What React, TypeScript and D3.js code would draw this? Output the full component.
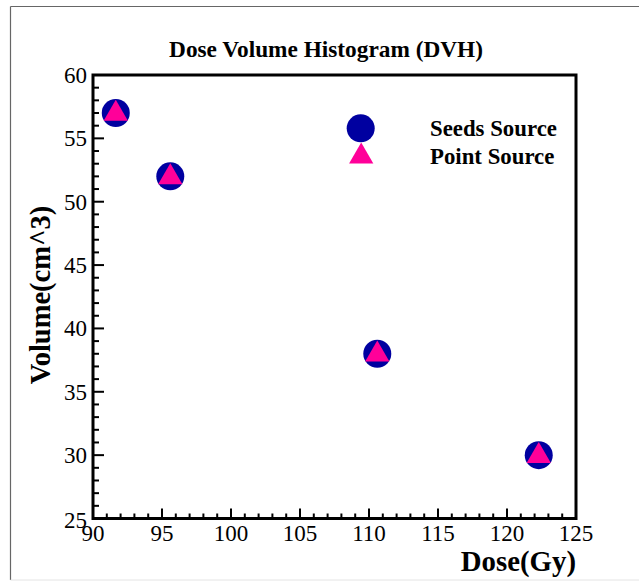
import React from "react";
import * as d3 from "d3";

const doses = [91.65, 95.6, 110.6, 122.3];
const seedsVolumes = [57, 52, 38, 30];
const pointVolumes = [57, 52, 38, 30];
const xTicks = [90, 95, 100, 105, 110, 115, 120, 125];
const yTicks = [25, 30, 35, 40, 45, 50, 55, 60];
const seriesNames = ["Seeds Source", "Point Source"];

const W = 639;
const H = 581;
const BLUE = "#0000a0";
const PINK = "#ff0099";
const SERIF = "'Liberation Serif', 'Times New Roman', serif";

export default function App() {
  const x = d3.scaleLinear().domain([90, 125]).range([93, 576]);
  const y = d3.scaleLinear().domain([25, 60]).range([518.5, 75]);
  const minorX = d3.range(90, 126, 1);
  const minorY = d3.range(25, 61, 1);
  const tri = d3.symbol().type(d3.symbolTriangle).size(255)() as string;
  const circleR = 14;

  return (
    <svg
      width={W}
      height={H}
      style={{ position: "absolute", left: 0, top: 0, background: "#fff" }}
    >
      {/* outer frame */}
      <line x1={10.5} y1={6.5} x2={W} y2={6.5} stroke="#666" strokeWidth={1.2} />
      <line x1={10.5} y1={6.5} x2={10.5} y2={580} stroke="#666" strokeWidth={1.2} />
      <line x1={10.5} y1={580} x2={W} y2={580} stroke="#e4e4e4" strokeWidth={1} />

      {/* title */}
      <text
        x={326}
        y={57}
        textAnchor="middle"
        fontFamily={SERIF}
        fontWeight="bold"
        fontSize={23.3}
      >
        Dose Volume Histogram (DVH)
      </text>

      {/* minor/major ticks */}
      {minorX.map((v) => {
        const major = v % 5 === 0;
        return (
          <line
            key={"xt" + v}
            x1={x(v)}
            x2={x(v)}
            y1={y(25)}
            y2={y(25) - (major ? 10 : 5)}
            stroke="#000"
            strokeWidth={2}
          />
        );
      })}
      {minorY.map((v) => {
        const major = v % 5 === 0;
        return (
          <line
            key={"yt" + v}
            x1={x(90)}
            x2={x(90) + (major ? 11 : 6)}
            y1={y(v)}
            y2={y(v)}
            stroke="#000"
            strokeWidth={2}
          />
        );
      })}

      {/* plot box */}
      <rect
        x={x(90)}
        y={y(60)}
        width={x(125) - x(90)}
        height={y(25) - y(60)}
        fill="none"
        stroke="#000"
        strokeWidth={3}
      />

      {/* tick labels */}
      {xTicks.map((v) => (
        <text
          key={"xl" + v}
          x={x(v)}
          y={540.5}
          textAnchor="middle"
          fontFamily={SERIF}
          fontSize={23}
        >
          {v}
        </text>
      ))}
      {yTicks.map((v) => (
        <text
          key={"yl" + v}
          x={87}
          y={y(v) + (v === 25 ? 1.5 : 0)}
          dy="0.34em"
          textAnchor="end"
          fontFamily={SERIF}
          fontSize={23}
        >
          {v}
        </text>
      ))}

      {/* axis titles */}
      <text
        x={576}
        y={571}
        textAnchor="end"
        fontFamily={SERIF}
        fontWeight="bold"
        fontSize={28.8}
      >
        Dose(Gy)
      </text>
      <text
        transform={`translate(49.5, 295) rotate(-90)`}
        textAnchor="middle"
        fontFamily={SERIF}
        fontWeight="bold"
        fontSize={28.5}
      >
        Volume(cm^3)
      </text>

      {/* data */}
      {doses.map((d, i) => (
        <circle key={"c" + i} cx={x(d)} cy={y(seedsVolumes[i])} r={circleR} fill={BLUE} />
      ))}
      {doses.map((d, i) => (
        <path
          key={"t" + i}
          d={tri}
          transform={`translate(${x(d)}, ${y(pointVolumes[i]) + 0.8})`}
          fill={PINK}
        />
      ))}

      {/* legend */}
      <circle cx={360.7} cy={128.3} r={circleR} fill={BLUE} />
      <path d={tri} transform={`translate(361.2, 156.4)`} fill={PINK} />
      <text x={430} y={136} fontFamily={SERIF} fontWeight="bold" fontSize={22.8}>
        {seriesNames[0]}
      </text>
      <text x={430} y={164} fontFamily={SERIF} fontWeight="bold" fontSize={22.8}>
        {seriesNames[1]}
      </text>
    </svg>
  );
}
